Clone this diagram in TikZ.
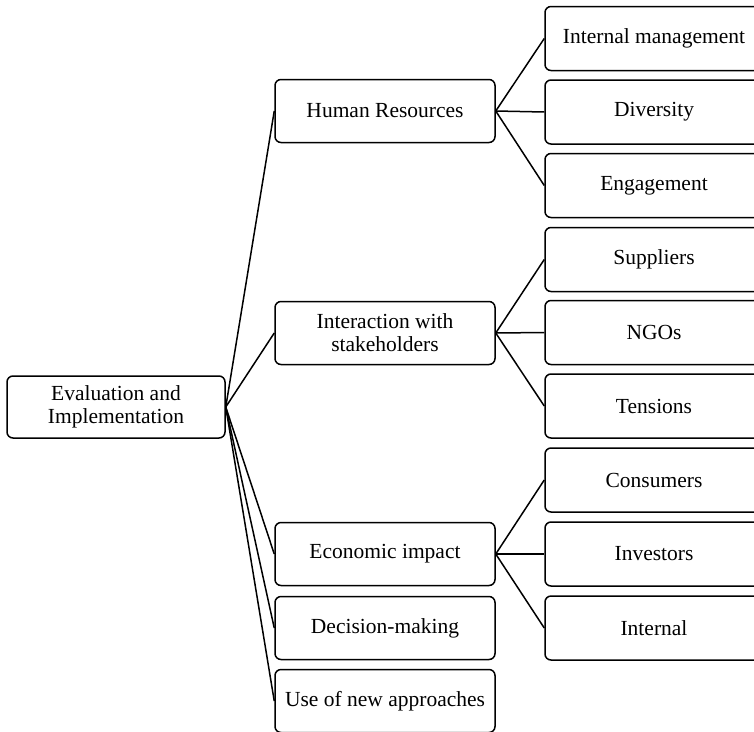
\documentclass[tikz,border=0pt]{standalone}
\usepackage{fontspec}
\setmainfont{Liberation Serif}
\begin{document}
\begin{tikzpicture}[x=1pt,y=-1pt,
  box/.style={draw=black, line width=1.5pt, rounded corners=6pt, fill=white,
    align=center, inner sep=0pt, font=\fontsize{21.5}{23}\selectfont},
  rootbox/.style={box, minimum width=218pt, minimum height=62pt},
  midbox/.style={box, minimum width=220pt, minimum height=63pt},
  leafbox/.style={box, minimum width=220pt, minimum height=64pt},
  link/.style={draw=black, line width=1.5pt}]
\useasboundingbox (0,0) rectangle (754,731);

% root
\node[rootbox] (root) at (116,407) {Evaluation and\\Implementation};

% second level
\node[midbox] (hr)  at (385,111) {Human Resources};
\node[midbox] (ist) at (385,333) {Interaction with\\stakeholders};
\node[midbox] (eco) at (385,554) {Economic impact};
\node[midbox] (dec) at (385,628) {Decision-making};
\node[midbox] (use) at (385,701) {Use of new approaches};

% third level (boxes run past the right edge)
\node[leafbox] (im)   at (655,38.5) {\hspace*{-2pt}Internal management};
\node[leafbox] (div)  at (655,112) {\hspace*{-2pt}Diversity};
\node[leafbox] (eng)  at (655,185.5) {\hspace*{-2pt}Engagement};
\node[leafbox] (sup)  at (655,259.5) {\hspace*{-2pt}Suppliers};
\node[leafbox] (ngo)  at (655,332.5) {\hspace*{-2pt}NGOs};
\node[leafbox] (ten)  at (655,406) {\hspace*{-2pt}Tensions};
\node[leafbox] (con)  at (655,480) {\hspace*{-2pt}Consumers};
\node[leafbox] (inv)  at (655,554) {\hspace*{-2pt}Investors};
\node[leafbox] (int)  at (655,628) {\hspace*{-2pt}Internal};

% connectors
\foreach \m in {hr,ist,eco,dec,use}
  \draw[link] (root.east) -- (\m.west);
\foreach \l in {im,div,eng}
  \draw[link] (hr.east) -- (\l.west);
\foreach \l in {sup,ngo,ten}
  \draw[link] (ist.east) -- (\l.west);
\foreach \l in {con,inv,int}
  \draw[link] (eco.east) -- (\l.west);
\end{tikzpicture}
\end{document}
